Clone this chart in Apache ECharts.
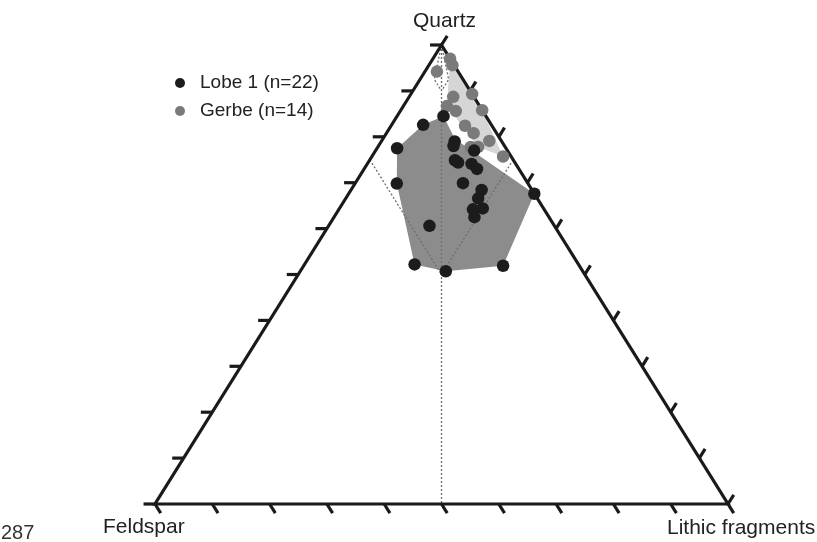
<!DOCTYPE html>
<html><head><meta charset="utf-8">
<script src="https://cdn.jsdelivr.net/npm/echarts@6/dist/echarts.min.js"></script>
<style>html,body{margin:0;padding:0;background:#fff}#c{width:817px;height:542px}</style>
</head><body><div id="c"></div>
<script>
// Ternary compositions, [Quartz %, Feldspar %, Lithic fragments %]
const lobe1 = [
  [84.5, 7.4, 8.1], [82.6, 11.9, 5.5], [77.5, 19.0, 3.5], [69.8, 22.9, 7.3],
  [60.6, 21.8, 17.6], [52.2, 28.6, 19.2], [50.7, 23.9, 25.4], [51.9, 13.3, 34.8],
  [67.6, 0.0, 32.4], [79.0, 8.2, 12.8], [78.0, 8.9, 13.1], [77.0, 5.8, 17.2],
  [74.9, 10.2, 14.9], [74.4, 9.9, 15.7], [74.1, 7.7, 18.2], [73.0, 7.3, 19.7],
  [69.9, 11.3, 18.8], [68.4, 8.8, 22.8], [66.6, 10.3, 23.1], [64.4, 10.6, 25.0],
  [64.2, 12.4, 23.4], [62.5, 13.0, 24.5]
];
const gerbe = [
  [97.0, 0.0, 3.0], [95.6, 0.3, 4.1], [94.2, 3.7, 2.1], [89.3, 0.0, 10.7],
  [88.7, 3.6, 7.7], [86.7, 5.7, 7.6], [85.6, 4.7, 9.7], [85.8, 0.0, 14.2],
  [82.4, 4.7, 12.9], [80.8, 4.0, 15.2], [79.1, 2.1, 18.8], [77.8, 4.7, 17.5],
  [75.7, 1.4, 22.9], [77.8, 6.0, 16.2]
];
// Field outlines (vertices, ternary %)
const lobe1Field = [
  [84.5, 7.4, 8.1], [79.5, 7.9, 12.6], [67.6, 0.0, 32.4], [51.9, 13.3, 34.8],
  [50.7, 23.9, 25.4], [52.2, 28.6, 19.2], [69.8, 22.9, 7.3], [77.5, 19.0, 3.5],
  [82.6, 11.9, 5.5]
];
const gerbeField = [
  [97.0, 0.0, 3.0], [85.8, 0.0, 14.2], [75.7, 1.4, 22.9], [77.8, 4.7, 17.5],
  [86.7, 5.7, 7.6]
];
// Classification boundaries (dotted)
const boundaries = [
  [[100, 0, 0], [0, 50, 50]],
  [[75, 25, 0], [50, 25, 25]],
  [[75, 0, 25], [50, 25, 25]],
  [[100, 0, 0], [92.5, 5, 2.5], [90, 5, 5]],
  [[100, 0, 0], [92.5, 2.5, 5], [90, 5, 5]]
];
const tickValues = [0, 10, 20, 30, 40, 50, 60, 70, 80, 90, 100];
const vertexLabels = ['Quartz', 'Feldspar', 'Lithic fragments'];
const seriesNames = ['Lobe 1 (n=22)', 'Gerbe (n=14)'];
const pageNumber = '287';

const TICK = 2.0; // tick length in % units

function tern(p) {
  const s = p[0] + p[1] + p[2];
  const q = p[0] / s, l = p[2] / s;
  return [l + q / 2, q];
}

const ticks = [];
tickValues.forEach(t => {
  ticks.push([[t, 100 - t, 0], [t, 100 - t + TICK, -TICK]]);       // Q-F edge
  ticks.push([[0, 100 - t, t], [-TICK, 100 - t, t + TICK]]);       // F-L edge
  ticks.push([[t, 0, 100 - t], [t + TICK, -TICK, 100 - t]]);       // Q-L edge
});

function polygonSeries(name, verts, fill) {
  return {
    type: 'custom', name: name, coordinateSystem: 'cartesian2d', clip: false, silent: true,
    data: [[0, 0]],
    renderItem: (params, api) => ({
      type: 'polygon',
      shape: { points: verts.map(v => api.coord(tern(v))) },
      style: { fill: fill, stroke: 'none' }
    })
  };
}

const chart = echarts.init(document.getElementById('c'), null, { renderer: 'canvas' });
const fontFam = '"Liberation Sans", Arial, Helvetica, sans-serif';
chart.setOption({
  animation: false,
  backgroundColor: '#ffffff',
  grid: { left: 155, right: 89, top: 45, bottom: 38 },
  xAxis: { type: 'value', min: 0, max: 1, show: false },
  yAxis: { type: 'value', min: 0, max: 1, show: false },
  legend: {
    data: seriesNames,
    orient: 'vertical', left: 175, top: 73, padding: 0,
    itemWidth: 30, itemHeight: 10, itemGap: 8,
    icon: 'circle',
    textStyle: { fontFamily: fontFam, fontSize: 19, lineHeight: 20, color: '#222' }
  },
  graphic: [
    { type: 'text', left: 413, top: 11, style: { text: vertexLabels[0], font: '21px ' + fontFam, fill: '#222' } },
    { type: 'text', left: 103, top: 517, style: { text: vertexLabels[1], font: '21px ' + fontFam, fill: '#222' } },
    { type: 'text', left: 667, top: 518, style: { text: vertexLabels[2], font: '21px ' + fontFam, fill: '#222' } },
    { type: 'text', left: 1, top: 523, style: { text: pageNumber, font: '20px ' + fontFam, fill: '#333' } }
  ],
  series: [
    polygonSeries('lobeField', lobe1Field, '#8c8c8c'),
    polygonSeries('gerbeField', gerbeField, '#d6d6d6'),
    {
      type: 'custom', name: 'boundaries', coordinateSystem: 'cartesian2d', clip: false, silent: true,
      data: [[0, 0]],
      renderItem: (params, api) => ({
        type: 'group',
        children: boundaries.map(b => ({
          type: 'polyline',
          shape: { points: b.map(v => api.coord(tern(v))) },
          style: { fill: 'none', stroke: '#6e6e6e', lineWidth: 1.3, lineDash: [2, 2] }
        }))
      })
    },
    {
      type: 'custom', name: 'frame', coordinateSystem: 'cartesian2d', clip: false, silent: true,
      data: [[0, 0]],
      renderItem: (params, api) => {
        const children = [{
          type: 'polygon',
          shape: { points: [[100, 0, 0], [0, 100, 0], [0, 0, 100]].map(v => api.coord(tern(v))) },
          style: { fill: 'none', stroke: '#1a1a1a', lineWidth: 3.2 }
        }];
        ticks.forEach(t => {
          const a = api.coord(tern(t[0])), b = api.coord(tern(t[1]));
          children.push({ type: 'line', shape: { x1: a[0], y1: a[1], x2: b[0], y2: b[1] },
            style: { stroke: '#1a1a1a', lineWidth: 3.2 } });
        });
        return { type: 'group', children: children };
      }
    },
    {
      type: 'scatter', name: seriesNames[1], symbol: 'circle', symbolSize: 12.5,
      itemStyle: { color: '#7a7a7a', opacity: 1 },
      data: gerbe.map(tern)
    },
    {
      type: 'scatter', name: seriesNames[0], symbol: 'circle', symbolSize: 12.5,
      itemStyle: { color: '#1c1c1c', opacity: 1 },
      data: lobe1.map(tern)
    }
  ]
});
</script></body></html>
